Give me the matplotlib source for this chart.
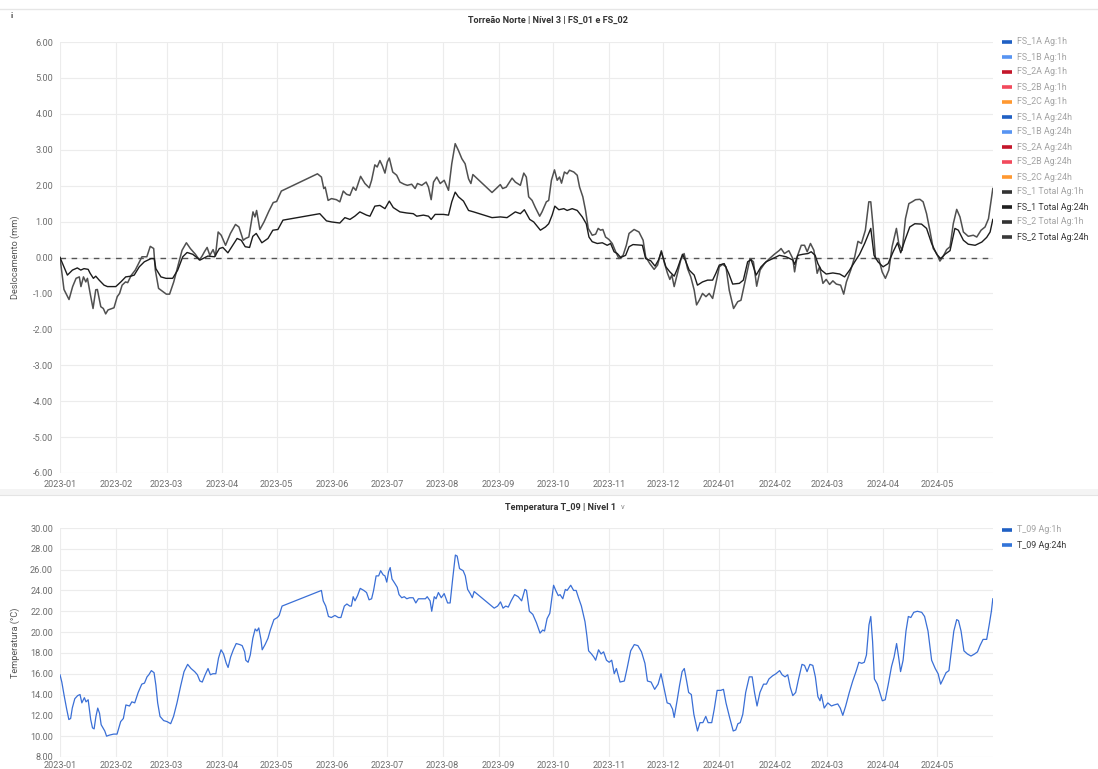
import matplotlib
matplotlib.use("Agg")
import matplotlib.pyplot as plt
import matplotlib.dates as mdates
import pandas as pd
from matplotlib.lines import Line2D
from matplotlib.patches import Rectangle

plt.rcParams['font.family'] = ['Roboto', 'DejaVu Sans']

# days since 2023-01-01 / values
fs2_day = [0, 2.2, 5, 7, 8.9, 10.7, 11.6, 13, 14.3, 15.2, 16.7, 18.3, 19.8, 20.7, 22.6, 24, 25.3, 26.6,
           29.9, 31.7, 33, 34.4, 36.3, 37.5, 39.4, 41.7, 43.5, 45.4, 48.1, 50, 51.9, 52.8, 54.6, 56.5,
           58.9, 60.7, 63, 65.7, 67.6, 70, 72.2, 75, 77.2, 78.7, 80, 81.5, 83, 84.8, 86.1, 87.6, 89.3,
           91.7, 94.4, 97.2, 99.1, 101.5, 102.8, 104.6, 106.9, 108, 108.9, 110.7, 113, 115.7, 118.1,
           120, 122.6, 142.6, 144.8, 146.1, 146.9, 148.5, 150.4, 153.1, 155, 156.9, 158.7, 160.6,
           162.4, 163.9, 166.5, 168.9, 171.3, 172.6, 174.4, 175.7, 177.2, 178.5, 180, 181.3, 182.4,
           184.3, 186.5, 188.3, 190.6, 192.4, 194.8, 196.7, 198, 200.4, 202.8, 204.1, 205.6, 206.9,
           208.7, 210.6, 212.8, 215.2, 217, 218.9, 220.7, 222.6, 224.4, 226.3, 227.6, 228.7, 239.3,
           242, 243.9, 245.2, 247.2, 250.4, 252.2, 255, 256.9, 258.3, 259.6, 261.5, 263.3, 265.7,
           267, 269.4, 270.7, 272.2, 273.9, 275.4, 276.7, 277.8, 279.4, 280.9, 282.2, 284.6, 286.5,
           287.8, 289.6, 291.1, 292.6, 294.8, 296.7, 298.1, 299.4, 300.7, 302.2, 304.1, 305.9,
           307.8, 309.6, 311.9, 313.7, 315.2, 318, 320.7, 323, 324.4, 326.7, 329.1, 331, 333.1,
           334.6, 336.5, 337.8, 338.9, 340.2, 342, 343.9, 345.7, 347.6, 349.4, 351.3, 352.6, 354.1,
           355.9, 357.8, 359.6, 361.5, 363.3, 365.2, 367, 368.9, 370.7, 373.1, 375.4, 377.2, 380,
           382.2, 384.1, 385.9, 387.8, 390.2, 393, 395.7, 398.5, 399.4, 401.3, 403.7, 405.9, 406.9,
           408.3, 410.6, 412.4, 413.9, 415.7, 417.6, 419.4, 420.7, 422.6, 424.4, 426.3, 428.1, 430,
           432.4, 434.1, 435.6, 438, 440.2, 442, 443.9, 446.1, 448, 449.1, 450.4, 451.7, 453.5,
           455.4, 457.2, 459.1, 460.9, 463.3, 464.6, 466.5, 468.3, 470.2, 472, 473.9, 476.3, 478.1,
           480, 481.8, 483.7, 485.6, 487.4, 489.3, 491.1, 493, 494.8, 496.7, 498.5, 500.4, 503.1,
           505.9, 507.8, 510.2, 512.4, 514.3, 515.5, 516.7]
fs2_val = [0, -0.89, -1.17, -0.81, -0.58, -0.54, -0.81, -0.54, -0.68, -0.58, -1.0, -1.42, -0.9, -0.89,
           -1.37, -1.42, -1.57, -1.46, -1.40, -1.09, -1.0, -0.77, -0.68, -0.7, -0.5, -0.35, -0.17,
           0.02, 0.02, 0.31, 0.25, -0.35, -0.86, -0.93, -1.02, -1.02, -0.68, -0.17, 0.2, 0.41, 0.25,
           0.09, -0.07, 0.04, 0.16, 0.28, 0.06, 0.22, 0.04, 0.71, 0.62, 0.34, 0.67, 0.92, 0.85, 0.48,
           0.53, 0.57, 1.27, 1.13, 1.31, 0.78, 0.99, 1.29, 1.53, 1.56, 1.85, 2.33, 2.24, 1.92, 1.96,
           1.59, 1.64, 1.61, 1.55, 1.85, 1.76, 1.73, 1.96, 1.87, 2.26, 2.06, 1.94, 2.15, 2.58, 2.52,
           2.70, 2.56, 2.35, 2.66, 2.77, 2.38, 2.29, 2.10, 2.04, 2.01, 2.04, 1.92, 2.06, 2.01, 2.10,
           1.96, 1.61, 2.10, 2.24, 2.06, 2.15, 1.87, 2.61, 3.17, 2.98, 2.75, 2.61, 2.19, 2.06, 2.31,
           1.81, 1.94, 2.03, 1.92, 1.96, 2.21, 2.10, 2.01, 2.35, 2.24, 1.69, 1.59, 1.39, 1.15, 1.27,
           1.55, 1.59, 2.15, 2.44, 2.15, 2.24, 2.07, 2.38, 2.33, 2.43, 2.38, 2.29, 1.96, 1.69, 1.31,
           0.81, 0.62, 0.65, 0.81, 0.76, 0.78, 0.57, 0.50, 0.39, 0.16, -0.03, 0.06, 0.34, 0.67, 0.78,
           0.71, 0.48, 0.02, -0.17, -0.33, -0.21, 0.19, -0.12, -0.44, -0.61, -0.49, -0.81, -0.44,
           -0.06, 0.11, -0.31, -0.54, -0.91, -1.32, -1.19, -1.0, -1.09, -1.0, -1.14, -0.72, -0.26,
           -0.19, -0.26, -0.91, -1.42, -1.23, -1.19, -0.54, -0.03, -0.12, -0.80, -0.35, -0.17, -0.03,
           0.09, 0.20, 0.25, 0.11, 0.19, -0.03, -0.40, 0.02, 0.34, 0.34, 0.16, 0.39, 0.20, -0.44,
           -0.26, -0.72, -0.61, -0.75, -0.65, -0.74, -0.77, -1.02, -0.68, -0.35, 0.02, 0.45, 0.39,
           0.76, 1.55, 1.55, 0.85, -0.03, -0.03, -0.40, -0.58, -0.35, 0.30, 0.81, 0.39, 0.20, 1.08,
           1.50, 1.55, 1.61, 1.62, 1.55, 1.22, 0.76, 0.25, 0.11, -0.10, 0.04, 0.22, 0.30, 0.94, 1.34,
           1.13, 0.71, 0.59, 0.62, 0.57, 0.76, 0.85, 1.08, 1.50, 1.92]

fs1_day = [0, 4.1, 6.9, 9.6, 11.5, 13.3, 15.6, 16.7, 18.5, 19.8, 21.7, 24.4, 26.3, 30.9, 33.7, 36.4,
           39.2, 41.1, 43.9, 46.7, 50.4, 52.2, 53.1, 55.9, 58.7, 62.4, 65.2, 68, 70.4, 73.5, 77.6,
           81.9, 85.6, 88.3, 90.2, 93, 95.7, 98.1, 100.4, 102.6, 105, 106.8, 108.7, 111.8, 115.2,
           117.9, 120.7, 123.5, 143.9, 147.6, 150.4, 155, 157.8, 160.6, 163.3, 166.1, 169.8, 171.7,
           174.4, 177.2, 180, 182.4, 184.6, 188.3, 192, 195.7, 197.6, 201.3, 204.1, 205.6, 207.8,
           212.4, 215.2, 217, 218.9, 220.7, 223.5, 226.3, 229.1, 239.3, 243.9, 247.6, 252.2, 255,
           257.2, 260.2, 262.4, 266.1, 268.9, 270.7, 272.6, 274.1, 276.3, 279.1, 280.9, 283.7,
           286.5, 289.3, 291.5, 293, 294.8, 297.6, 300.4, 303.1, 305, 306.9, 308.7, 310.6, 313.3,
           315.2, 317.4, 322.6, 324.4, 327.2, 329.6, 331.5, 333.1, 335.6, 337.8, 340.2, 342, 344.8,
           346.3, 348.5, 351.3, 353.1, 355.9, 358.7, 361.5, 363.3, 365.2, 367.9, 370.4, 372.6,
           376.3, 378.5, 380.9, 382.8, 385.6, 388.3, 391.1, 394.8, 398.5, 402.2, 405.9, 406.9,
           408.7, 411.5, 414.3, 416.1, 418.3, 419.8, 421.7, 424.4, 428.1, 431.9, 434.6, 437.4,
           440.2, 442.9, 445.7, 449.1, 450.9, 453.1, 455.9, 458.7, 461.5, 463.9, 465.7, 468, 470.7,
           473.5, 477.2, 480, 482.8, 485.6, 487.8, 490.2, 493, 495.7, 497.6, 500.4, 503.1, 506.9,
           510.6, 513.3, 515.2, 516.7]
fs1_val = [0, -0.49, -0.35, -0.29, -0.35, -0.31, -0.33, -0.44, -0.58, -0.52, -0.63, -0.77, -0.81,
           -0.81, -0.68, -0.54, -0.52, -0.49, -0.26, -0.12, -0.03, -0.03, -0.31, -0.54, -0.58, -0.58,
           -0.35, 0.02, 0.14, 0.09, -0.07, 0.04, 0.02, 0.25, 0.28, 0.13, 0.34, 0.53, 0.48, 0.30, 0.28,
           0.59, 0.67, 0.41, 0.53, 0.76, 0.78, 1.04, 1.22, 1.02, 0.99, 0.96, 1.11, 1.06, 1.15, 1.27,
           1.18, 1.15, 1.43, 1.45, 1.36, 1.57, 1.39, 1.27, 1.24, 1.22, 1.15, 1.18, 1.15, 1.06, 1.20,
           1.20, 1.18, 1.55, 1.82, 1.69, 1.57, 1.31, 1.27, 1.11, 1.13, 1.11, 1.27, 1.22, 1.33, 1.06,
           0.99, 0.76, 0.85, 0.94, 1.18, 1.43, 1.33, 1.36, 1.31, 1.36, 1.31, 1.13, 0.94, 0.57, 0.44,
           0.39, 0.41, 0.34, 0.39, 0.16, 0.11, 0.0, 0.06, 0.30, 0.36, 0.34, -0.03, -0.09, -0.24,
           -0.07, 0.16, -0.26, -0.40, -0.52, -0.31, 0.09, -0.07, -0.35, -0.49, -0.77, -0.68, -0.63,
           -0.63, -0.44, -0.21, -0.17, -0.44, -0.74, -0.72, -0.63, -0.12, -0.06, -0.49, -0.26, -0.12,
           -0.03, 0.06, 0.02, -0.07, -0.19, 0.06, 0.09, 0.11, 0.16, 0.06, -0.17, -0.35, -0.46, -0.43,
           -0.46, -0.54, -0.35, -0.12, 0.09, 0.39, 0.81, 0.06, -0.12, -0.26, -0.17, 0.16, 0.41, 0.13,
           0.48, 0.85, 0.94, 0.93, 0.81, 0.39, 0.09, -0.03, 0.09, 0.19, 0.81, 0.76, 0.48, 0.37, 0.34,
           0.43, 0.56, 0.71, 1.06]

t09_day = [0, 1, 2.3, 3.7, 4.9, 5.9, 6.8, 8.2, 9.8, 11.1, 12.1, 13.5, 14.4, 15.6, 17, 18, 18.9, 19.9,
           20.9, 21.9, 22.8, 23.8, 24.8, 25.8, 27.3, 29.7, 31.6, 32.6, 33.6, 35.1, 36.5, 38.5, 39.8,
           41.4, 43.3, 45.3, 46.8, 48.2, 49.2, 50.6, 52.1, 53.1, 54.1, 55.4, 57.4, 59.3, 61.3, 62.9,
           64.8, 66.8, 68.7, 70.7, 72.6, 74.6, 76.1, 77.5, 78.8, 80.4, 82, 83.3, 84.7, 86.3, 87.8,
           89.2, 90.6, 92.1, 93.1, 94.5, 96, 97.6, 99.6, 100.9, 102.3, 102.9, 104.2, 105.4, 106.8,
           108.1, 109.1, 110.1, 111.3, 112, 113.6, 115.2, 116.5, 118.5, 120.4, 121.4, 123, 144.8,
           145.8, 147.2, 148.7, 150.3, 152.3, 154.2, 155.6, 157.5, 158.9, 160.5, 161.4, 162.4, 163.4,
           164.8, 166.3, 168.3, 169.8, 171.2, 172.6, 173.7, 175.1, 176.5, 177.6, 179, 180, 181, 182,
           182.9, 183.9, 185.4, 186.8, 187.8, 189.3, 190.7, 192.1, 193.6, 195.6, 197.1, 198.5, 200.5,
           202.4, 203.4, 205, 205.9, 207.3, 208.3, 209.6, 211.2, 212.8, 214.7, 216.1, 217.5, 219,
           220, 221.3, 223.3, 224.5, 225.8, 227.2, 228.4, 229.4, 240.5, 242.4, 244, 245.4, 246.9,
           248.3, 249.9, 251.8, 253.8, 255.7, 257.5, 258.4, 260, 261.9, 263.9, 265.9, 267.4, 268.4,
           269.8, 271.3, 273.4, 274.6, 276, 277, 278.5, 279.9, 280.9, 282.9, 284.5, 285.9, 287.2,
           288.8, 290.8, 291.8, 292.8, 294.4, 295.7, 296.7, 298.3, 299.7, 301.1, 302.7, 304.2, 305.6,
           307, 308.2, 310.2, 312.6, 314.1, 316.1, 318.1, 320.1, 322.1, 324, 325.4, 327.4, 329.4,
           331.3, 332.9, 334.7, 336.3, 337.9, 339.3, 340.2, 341.8, 343.2, 344.6, 345.8, 347.2, 348.2,
           349.7, 351.1, 353.1, 354.5, 356.1, 357.7, 359, 361, 362.4, 364, 366, 367.5, 368.9, 370.9,
           372.9, 374.3, 375.5, 376.8, 378.2, 379.8, 381.8, 383.4, 384.7, 386.1, 387.7, 389.7, 391.3,
           392.7, 394.7, 396.6, 398.6, 400, 401.6, 403.1, 404.5, 405.9, 407.5, 409.1, 411, 412.4,
           413.8, 415.4, 417, 418.4, 419.8, 421, 421.7, 423.3, 425.3, 427.3, 428.8, 430.8, 432.2,
           433.6, 435.2, 437.2, 439.1, 441.1, 442.5, 444.1, 445.5, 446.7, 448.1, 449.1, 450.1, 451.1,
           452.7, 454.1, 455.5, 457.1, 458.7, 460.6, 462, 463.4, 464.6, 465.6, 467, 468.6, 469.9,
           471.3, 472.9, 474.9, 477.3, 478.9, 480.8, 482.8, 484.8, 486.4, 487.8, 489.2, 490.8, 492.4,
           493.7, 495.1, 496.7, 497.7, 499.1, 500.7, 502.6, 504.6, 506.6, 508.2, 509.6, 511.3, 513.3,
           514.7, 515.9, 516.7]
t09_val = [15.9, 15.2, 13.9, 12.6, 11.6, 11.7, 12.7, 13.6, 13.9, 14.0, 13.2, 13.7, 13.3, 13.5, 11.6,
           10.8, 10.7, 11.9, 12.7, 12.2, 11.1, 10.8, 10.5, 10.0, 10.1, 10.2, 10.2, 10.8, 11.4, 11.7,
           13.0, 12.9, 13.3, 13.2, 14.2, 15.0, 15.1, 15.7, 15.9, 16.3, 16.1, 14.9, 13.2, 11.9, 11.5,
           11.4, 11.2, 11.9, 13.2, 14.8, 16.2, 16.9, 16.5, 16.2, 15.9, 15.3, 15.2, 15.9, 16.5, 15.9,
           16.0, 16.0, 17.5, 18.3, 17.9, 17.0, 16.6, 17.6, 18.3, 18.9, 18.8, 18.7, 18.1, 17.3, 17.1,
           17.8, 19.4, 20.3, 20.1, 20.4, 19.3, 18.3, 18.8, 19.4, 20.2, 21.2, 21.4, 21.6, 22.5, 24.0,
           23.0, 22.5, 21.5, 21.4, 21.6, 21.4, 21.4, 22.5, 22.7, 22.5, 22.5, 23.4, 23.0, 23.5, 24.2,
           24.0, 23.8, 23.1, 23.2, 24.0, 25.4, 25.4, 25.9, 25.5, 25.4, 24.8, 25.8, 26.2, 25.1, 24.7,
           24.3, 23.6, 23.3, 23.4, 23.2, 23.3, 23.3, 22.8, 23.2, 23.2, 23.2, 23.4, 23.0, 22.0, 23.4,
           23.2, 23.8, 23.3, 23.7, 22.8, 22.8, 25.1, 27.4, 27.3, 26.1, 25.9, 25.4, 24.1, 23.7, 23.3,
           23.9, 22.3, 22.5, 22.9, 22.3, 22.5, 22.4, 23.0, 23.6, 23.4, 23.0, 24.1, 24.0, 22.0, 21.7,
           20.9, 19.9, 20.2, 20.1, 21.3, 21.8, 24.5, 24.0, 23.5, 23.6, 23.2, 24.1, 24.0, 24.5, 24.0,
           24.0, 23.3, 22.5, 21.0, 19.7, 18.2, 17.9, 17.6, 17.3, 18.3, 17.9, 18.1, 17.3, 17.1, 17.3,
           16.0, 16.5, 15.2, 15.3, 16.5, 18.2, 18.8, 18.7, 18.1, 17.0, 15.3, 15.2, 14.5, 15.0, 16.0,
           14.5, 13.2, 13.1, 12.6, 11.8, 13.4, 14.9, 16.2, 16.5, 15.2, 14.2, 14.0, 12.1, 10.5, 11.3,
           11.3, 11.9, 11.3, 11.3, 12.6, 14.4, 14.4, 14.5, 13.2, 11.8, 10.5, 10.6, 11.2, 11.3, 12.1,
           14.2, 15.7, 15.7, 14.2, 12.9, 14.2, 15.0, 15.0, 15.5, 15.8, 16.0, 16.3, 15.9, 15.7, 15.9,
           14.7, 13.9, 14.2, 15.5, 16.9, 16.8, 16.2, 16.9, 16.8, 15.7, 13.8, 13.4, 14.0, 12.7, 13.2,
           12.9, 13.0, 13.1, 12.7, 12.0, 12.9, 14.2, 15.3, 16.3, 17.1, 17.0, 17.1, 17.8, 20.7, 21.5,
           19.1, 15.5, 15.0, 14.2, 13.4, 13.5, 14.9, 16.7, 17.6, 18.9, 17.5, 16.2, 17.3, 20.1, 21.5,
           21.4, 21.9, 22.0, 21.9, 21.5, 20.1, 17.3, 16.5, 16.0, 15.0, 15.5, 16.1, 16.3, 18.1, 20.1,
           21.2, 21.1, 20.1, 18.2, 17.9, 17.7, 17.9, 18.1, 18.7, 19.3, 19.3, 20.7, 22.0, 23.2]

top_labels = ["FS_1A Ag:1h", "FS_1B Ag:1h", "FS_2A Ag:1h", "FS_2B Ag:1h", "FS_2C Ag:1h",
              "FS_1A Ag:24h", "FS_1B Ag:24h", "FS_2A Ag:24h", "FS_2B Ag:24h", "FS_2C Ag:24h",
              "FS_1 Total Ag:1h", "FS_1 Total Ag:24h", "FS_2 Total Ag:1h", "FS_2 Total Ag:24h"]
top_colors = ["#1f60c4", "#5794f2", "#c4162a", "#f2495c", "#ff9830",
              "#1f60c4", "#5794f2", "#c4162a", "#f2495c", "#ff9830",
              "#333333", "#1f1f1f", "#333333", "#3a3a3a"]
top_shown = [False] * 11 + [True, False, True]
bottom_labels = ["T_09 Ag:1h", "T_09 Ag:24h"]
bottom_colors = ["#1f60c4", "#3274d9"]
bottom_shown = [False, True]

START = pd.Timestamp("2023-01-01")
END_DAY = 516.8


def to_dates(days):
    return START + pd.to_timedelta(days, unit="D")


W, H = 1098, 769


def fx(px):
    return px / W


def fy(py):
    return 1 - py / H


fig = plt.figure(figsize=(W / 100, H / 100), dpi=100)
fig.patch.set_facecolor("white")

TICK_C = "#6e6e6e"
GRID_C = "#ececec"


def style_axes(ax):
    for s in ax.spines.values():
        s.set_visible(False)
    ax.grid(True, color=GRID_C, lw=0.8)
    ax.set_axisbelow(True)
    ax.tick_params(length=0, labelsize=6.6, colors=TICK_C, pad=5)
    ax.xaxis.set_major_locator(mdates.MonthLocator())
    ax.xaxis.set_major_formatter(mdates.DateFormatter("%Y-%m"))
    ax.set_xlim(START, to_dates(END_DAY))
    ax.yaxis.set_major_formatter(matplotlib.ticker.FormatStrFormatter("%.2f"))


# ---- top panel
ax1 = fig.add_axes([fx(60), fy(473), fx(933), (473 - 42) / H])
style_axes(ax1)
ax1.set_ylim(-6, 6)
ax1.set_yticks(range(-6, 7))
ax1.axhline(0, color="#555555", lw=1, ls=(0, (4, 4)))
ax1.plot(to_dates(fs2_day), fs2_val, color="#505050", lw=1.1)
ax1.plot(to_dates(fs1_day), fs1_val, color="#1c1c1c", lw=1.0)

# ---- bottom panel
ax2 = fig.add_axes([fx(60), fy(757), fx(933), (757 - 528) / H])
style_axes(ax2)
ax2.set_ylim(8, 30)
ax2.set_yticks(range(8, 31, 2))
ax2.tick_params(axis="x", pad=3)
ax2.plot(to_dates(t09_day), t09_val, color="#3a6fd6", lw=0.9)

# titles / axis labels
fig.text(fx(548), fy(20), "Torreão Norte | Nível 3 | FS_01 e FS_02", ha="center", va="center",
         fontsize=6.6, fontweight="bold", color="#333333")
fig.text(fx(561), fy(507), "Temperatura T_09 | Nível 1", ha="center", va="center",
         fontsize=6.6, fontweight="bold", color="#333333")
fig.text(fx(621), fy(507), "v", ha="left", va="center", fontsize=5.5, color="#8a8a8a")
fig.text(fx(12), fy(15), "i", ha="center", va="center", fontsize=6, fontweight="bold", color="#444444")
fig.text(fx(15), fy(257), "Deslocamento (mm)", rotation=90, ha="center", va="center",
         fontsize=6.6, color="#555555")
fig.text(fx(15), fy(643), "Temperatura (°C)", rotation=90, ha="center", va="center",
         fontsize=6.6, color="#555555")

# panel borders
fig.add_artist(Line2D([0, 1], [fy(9), fy(9)], color="#e6e6e6", lw=1))
fig.add_artist(Rectangle((0, fy(495)), 1, 6 / H, color="#f4f4f4", lw=0))
fig.add_artist(Line2D([0, 1], [fy(495), fy(495)], color="#e4e4e4", lw=0.8))


def draw_legend(labels, colors, shown, y0):
    for i, (lab, col, on) in enumerate(zip(labels, colors, shown)):
        y = fy(y0 + 15 * i)
        fig.add_artist(Line2D([fx(1002), fx(1012)], [y, y], color=col, lw=2.6, solid_capstyle="butt"))
        fig.text(fx(1017), y, lab, ha="left", va="center", fontsize=6.4,
                 color="#3a3a3a" if on else "#a3a3a3")


draw_legend(top_labels, top_colors, top_shown, 42)
draw_legend(bottom_labels, bottom_colors, bottom_shown, 530)

fig.savefig("out.png", dpi=100, facecolor="white")
